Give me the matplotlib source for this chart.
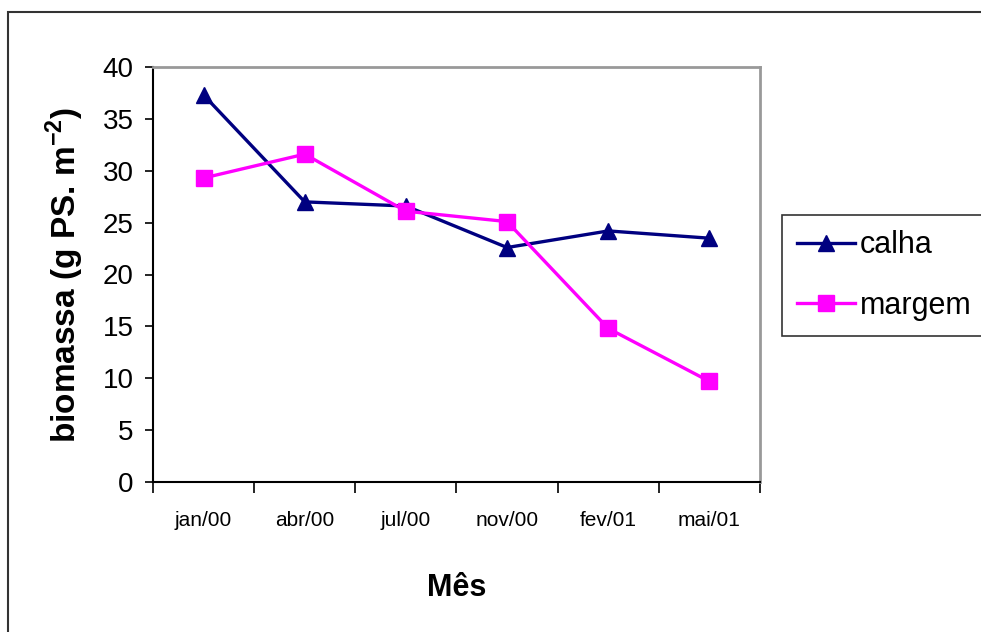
import matplotlib.pyplot as plt
from matplotlib.patches import Rectangle

# dados
meses = ["jan/00", "abr/00", "jul/00", "nov/00", "fev/01", "mai/01"]
calha = [37.3, 27.0, 26.6, 22.6, 24.2, 23.5]
margem = [29.3, 31.6, 26.1, 25.1, 14.8, 9.7]

plt.rcParams['font.family'] = ['Liberation Sans', 'DejaVu Sans']

fig = plt.figure(figsize=(9.81, 6.32), dpi=100)
ax = fig.add_axes([153/981, 1 - 482/632, (760 - 153)/981, (482 - 67)/632])

x = list(range(len(meses)))
ax.plot(x, calha, color='#000080', lw=2.4, marker='^', ms=12, label='calha', clip_on=False)
ax.plot(x, margem, color='#FF00FF', lw=2.4, marker='s', ms=11, label='margem', clip_on=False)

ax.set_xlim(-0.5, len(meses) - 0.5)
ax.set_ylim(0, 40)
ax.set_yticks(range(0, 41, 5))
ax.tick_params(axis='y', direction='out', length=6, width=1.2, labelsize=20, pad=8)

# ticks nas divisas das categorias, rotulos no meio
ax.set_xticks([i - 0.5 for i in range(len(meses) + 1)])
ax.set_xticklabels([])
ax.set_xticks(x, minor=True)
ax.set_xticklabels(meses, minor=True)
ax.tick_params(axis='x', which='major', direction='out', length=8, width=1.2)
ax.tick_params(axis='x', which='minor', length=0, labelsize=15, pad=21)

for s in ['left', 'bottom']:
    ax.spines[s].set_color('black')
    ax.spines[s].set_linewidth(1.5)
for s in ['top', 'right']:
    ax.spines[s].set_color('#999999')
    ax.spines[s].set_linewidth(2)

ax.set_ylabel('biomassa (g PS. m$^{\\mathregular{-2}}$)', fontsize=24, fontweight='bold')
ax.yaxis.set_label_coords(-0.11, 0.5)
ax.set_xlabel('Mês', fontsize=22, fontweight='bold')
ax.xaxis.set_label_coords(0.5, -0.22)

leg = fig.legend(loc='upper left', bbox_to_anchor=(782/981, 1 - 215/632), fontsize=22,
                 frameon=True, fancybox=False, edgecolor='black', handlelength=1.9,
                 handletextpad=0.15, labelspacing=1.0, borderpad=0.5, borderaxespad=0)
leg.get_frame().set_linewidth(1.2)

# moldura externa do grafico
fig.patches.append(Rectangle((8/981, -0.05), 1.1, 1 - 12/632 + 0.05, transform=fig.transFigure,
                             fill=False, edgecolor='#333333', lw=1.5, clip_on=False))

fig.savefig('out.png', dpi=100)
